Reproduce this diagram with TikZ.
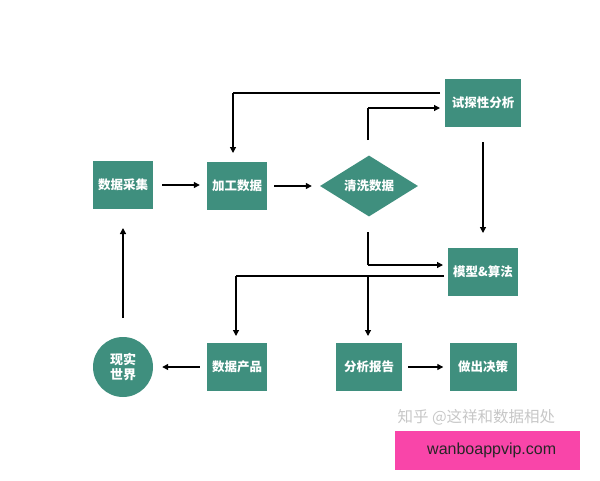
\documentclass[tikz,border=0pt]{standalone}
\usepackage{fontspec}
\newfontfamily\cjk{Noto Sans CJK SC}
\usetikzlibrary{shapes.geometric,arrows.meta}
\definecolor{teal1}{HTML}{3F8F7E}
\definecolor{pinkbg}{HTML}{F945A9}
\begin{document}
\begin{tikzpicture}[x=1pt,y=-1pt,
  box/.style={fill=teal1,text=white,font=\cjk\bfseries\fontsize{12.5}{14}\selectfont,inner sep=0pt,minimum height=48pt},
  arr/.style={line width=1.2pt,-{Triangle[length=6pt,width=6pt]}},
  ln/.style={line width=1.2pt}]
\useasboundingbox (0,0) rectangle (600,480);
\node[box,minimum width=60pt] (cj) at (123,185) {数据采集};
\node[box,minimum width=60pt] (jg) at (237,186) {加工数据};
\node[box,diamond,aspect=1.6,minimum width=98pt,minimum height=61pt] (qx) at (369,186) {清洗数据};
\node[box,minimum width=76pt] (ts) at (483,103) {试探性分析};
\node[box,minimum width=70pt] (mx) at (483,272) {模型\&算法};
\node[box,circle,minimum size=60pt,align=center,font=\cjk\bfseries\fontsize{13}{15}\selectfont] (xs) at (123,367) {现实\\世界};
\node[box,minimum width=60pt] (cp) at (237,367) {数据产品};
\node[box,minimum width=66pt] (bg) at (369,367) {分析报告};
\node[box,minimum width=67pt] (jc) at (483,367) {做出决策};
\coordinate (a1) at (440,93);
\coordinate (a2) at (233,93);
\coordinate (b1) at (368,140);
\coordinate (b2) at (368,108);
\coordinate (c1) at (368,232);
\coordinate (c2) at (368,265);
\coordinate (d1) at (444,276);
\coordinate (d2) at (236,276);
\coordinate (d3) at (368,276);
\draw[arr,shorten <=9pt,shorten >=7pt] (cj.east) -- (cj.east -| jg.west);
\draw[arr,shorten <=7pt,shorten >=8pt] (jg.east) -- (qx.west);
\draw[ln] (a1) -- (a2);
\draw[arr] (a2) -- (233,153);
\draw[ln] (b1) -- (b2);
\draw[arr] (b2) -- (440,108);
\draw[arr] (483,142) -- (483,233);
\draw[ln] (c1) -- (c2);
\draw[arr] (c2) -- (443,265);
\draw[ln] (d1) -- (d2);
\draw[arr] (d2) -- (236,336);
\draw[arr] (d3) -- (368,336);
\draw[arr,shorten <=7pt,shorten >=9pt] (cp.west) -- (xs.east);
\draw[arr,shorten <=6pt,shorten >=6pt] (bg.east) -- (jc.west);
\draw[arr] (123,318) -- (123,228);
\node[text=black!22,font=\cjk\fontsize{15.5}{17}\selectfont,anchor=west] (wm) at (394,417) {知乎 @这祥和数据相处};
\node[fill=pinkbg,minimum width=185pt,minimum height=39pt,anchor=north west,inner sep=0pt,text=black!85,font=\fontspec{Liberation Sans}\fontsize{16}{18}\selectfont] (pk) at (395,431) {\hspace*{8pt}wanboappvip.com};
\end{tikzpicture}
\end{document}
